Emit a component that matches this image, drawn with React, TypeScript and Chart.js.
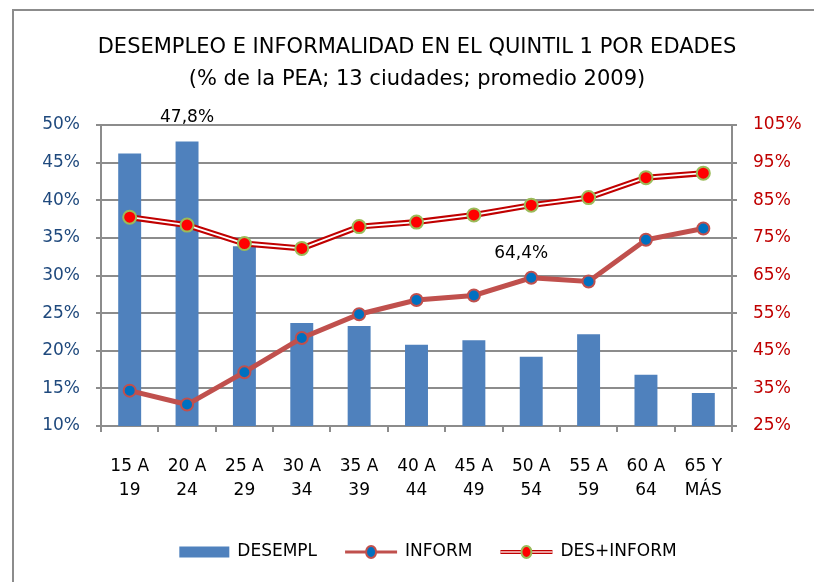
import React, { useEffect, useRef } from "react";
import { Chart, registerables } from "chart.js";

Chart.register(...registerables);

// ---------- data ----------
const categories: string[][] = [
  ["15 A", "19"], ["20 A", "24"], ["25 A", "29"], ["30 A", "34"], ["35 A", "39"],
  ["40 A", "44"], ["45 A", "49"], ["50 A", "54"], ["55 A", "59"], ["60 A", "64"], ["65 Y", "MÁS"],
];
const desempl = [46.2, 47.8, 33.9, 23.7, 23.3, 20.8, 21.4, 19.2, 22.2, 16.8, 14.4];
const inform = [34.4, 30.7, 39.3, 48.4, 54.7, 58.5, 59.7, 64.4, 63.4, 74.5, 77.5];
const desInform = [80.5, 78.4, 73.5, 72.2, 78.0, 79.2, 81.1, 83.7, 85.7, 91.0, 92.2];

const leftAxis = { min: 10, max: 50, step: 5 };
const rightAxis = { min: 25, max: 105, step: 10 };

const titleLines = [
  "DESEMPLEO E INFORMALIDAD EN EL QUINTIL 1 POR EDADES",
  "(% de la PEA; 13 ciudades; promedio 2009)",
];
const legendLabels = ["DESEMPL", "INFORM", "DES+INFORM"];
// which values carry a data label: [dataset index, point index]
const labeledPoints: [number, number][] = [[0, 1], [1, 7]];

// ---------- styles ----------
const FONT = '"DejaVu Sans", Verdana, sans-serif';
const GRID = "#8c8c8c";
const BAR_BLUE = "#4F81BD";
const INFORM_LINE = "#C0504D";
const INFORM_POINT = "#0070C0";
const DI_LINE = "#C00000";
const DI_POINT = "#FF0000";
const DI_POINT_BORDER = "#9BBB59";

const fmt = (v: number) => v.toFixed(1).replace(".", ",") + "%";

const titlePlugin = {
  id: "customTitle",
  afterDraw(chart: any) {
    const ctx = chart.ctx;
    ctx.save();
    ctx.font = `21px ${FONT}`;
    ctx.fillStyle = "#000";
    ctx.textAlign = "center";
    ctx.textBaseline = "middle";
    titleLines.forEach((t, i) => ctx.fillText(t, 417, 48 + i * 32));
    ctx.restore();
  },
};

const dataLabelPlugin = {
  id: "dataLabels",
  afterDatasetsDraw(chart: any) {
    const ctx = chart.ctx;
    ctx.save();
    ctx.font = `17px ${FONT}`;
    ctx.fillStyle = "#000";
    ctx.textAlign = "center";
    ctx.textBaseline = "middle";
    labeledPoints.forEach(([ds, i]) => {
      const el = chart.getDatasetMeta(ds).data[i];
      const v = chart.data.datasets[ds].data[i];
      const dx = ds === 0 ? 0 : -10;
      ctx.fillText(fmt(v), el.x + dx, el.y - 24);
    });
    ctx.restore();
  },
};

const legendPlugin = {
  id: "customLegend",
  afterDraw(chart: any) {
    const ctx = chart.ctx;
    ctx.save();
    ctx.font = `17px ${FONT}`;
    const symW = [50, 52, 52];
    const gap = 8;
    const itemGap = 28;
    const widths = legendLabels.map((t, i) => symW[i] + gap + ctx.measureText(t).width);
    const total = widths.reduce((a, b) => a + b, 0) + itemGap * (widths.length - 1);
    let x = 428 - total / 2;
    const y = 552;
    legendLabels.forEach((t, i) => {
      if (i === 0) {
        ctx.fillStyle = BAR_BLUE;
        ctx.fillRect(x, y - 5.5, symW[0], 11);
      } else if (i === 1) {
        ctx.strokeStyle = INFORM_LINE;
        ctx.lineWidth = 3;
        ctx.beginPath();
        ctx.moveTo(x, y);
        ctx.lineTo(x + symW[1], y);
        ctx.stroke();
        ctx.beginPath();
        ctx.ellipse(x + symW[1] / 2, y, 5, 6, 0, 0, Math.PI * 2);
        ctx.fillStyle = INFORM_POINT;
        ctx.fill();
        ctx.lineWidth = 2;
        ctx.strokeStyle = INFORM_LINE;
        ctx.stroke();
      } else {
        ctx.strokeStyle = DI_LINE;
        ctx.lineWidth = 4;
        ctx.beginPath();
        ctx.moveTo(x, y);
        ctx.lineTo(x + symW[2], y);
        ctx.stroke();
        ctx.strokeStyle = "#fbd0d0";
        ctx.lineWidth = 1.5;
        ctx.beginPath();
        ctx.moveTo(x, y);
        ctx.lineTo(x + symW[2], y);
        ctx.stroke();
        ctx.beginPath();
        ctx.ellipse(x + symW[2] / 2, y, 5, 6, 0, 0, Math.PI * 2);
        ctx.fillStyle = DI_POINT;
        ctx.fill();
        ctx.lineWidth = 2;
        ctx.strokeStyle = DI_POINT_BORDER;
        ctx.stroke();
      }
      ctx.fillStyle = "#000";
      ctx.textAlign = "left";
      ctx.textBaseline = "middle";
      ctx.fillText(t, x + symW[i] + gap, y);
      x += widths[i] + itemGap;
    });
    ctx.restore();
  },
};

export default function App() {
  const ref = useRef<HTMLCanvasElement | null>(null);

  useEffect(() => {
    if (!ref.current) return;
    const chart = new Chart(ref.current, {
      type: "bar",
      data: {
        labels: categories,
        datasets: [
          {
            type: "bar",
            label: legendLabels[0],
            data: desempl,
            yAxisID: "y",
            backgroundColor: BAR_BLUE,
            barPercentage: 0.4,
            categoryPercentage: 1,
            order: 10,
          },
          {
            type: "line",
            label: legendLabels[1],
            data: inform,
            yAxisID: "y1",
            borderColor: INFORM_LINE,
            borderWidth: 5,
            pointRadius: 6,
            pointBorderWidth: 2,
            pointBackgroundColor: INFORM_POINT,
            pointBorderColor: INFORM_LINE,
            tension: 0,
            order: 1,
          },
          {
            type: "line",
            label: legendLabels[2],
            data: desInform,
            yAxisID: "y1",
            borderColor: DI_LINE,
            borderWidth: 6,
            pointRadius: 0,
            tension: 0,
            order: 4,
          },
          {
            type: "line",
            label: legendLabels[2] + " inner",
            data: desInform,
            yAxisID: "y1",
            borderColor: "#ffffff",
            borderWidth: 1.8,
            pointRadius: 0,
            tension: 0,
            order: 3,
          },
          {
            type: "line",
            label: legendLabels[2] + " points",
            data: desInform,
            yAxisID: "y1",
            showLine: false,
            pointRadius: 6.5,
            pointBorderWidth: 2,
            pointBackgroundColor: DI_POINT,
            pointBorderColor: DI_POINT_BORDER,
            order: 2,
          },
        ],
      },
      options: {
        animation: false,
        responsive: false,
        events: [],
        layout: { padding: { left: 0, right: 0, top: 125, bottom: 76 } },
        plugins: {
          legend: { display: false },
          tooltip: { enabled: false },
          title: { display: false },
        },
        scales: {
          x: {
            offset: true,
            grid: {
              offset: true,
              drawOnChartArea: false,
              drawTicks: true,
              tickLength: 6,
              color: GRID,
              lineWidth: 2,
            },
            border: { display: true, color: GRID, width: 2 },
            ticks: {
              color: "#000",
              font: { family: FONT, size: 17, lineHeight: 1.45 },
              padding: 22,
              maxRotation: 0,
              autoSkip: false,
            },
            afterFit: (s: any) => { s.height = 80; },
          },
          y: {
            position: "left",
            min: leftAxis.min,
            max: leftAxis.max,
            grid: { color: GRID, lineWidth: 2, tickLength: 5 },
            border: { display: true, color: GRID, width: 2 },
            ticks: {
              stepSize: leftAxis.step,
              color: "#1F497D",
              font: { family: FONT, size: 17 },
              padding: 16,
              callback: (v: any) => v + "%",
            },
            afterFit: (s: any) => { s.width = 101; },
          },
          y1: {
            position: "right",
            min: rightAxis.min,
            max: rightAxis.max,
            grid: { drawOnChartArea: false, color: GRID, lineWidth: 2, tickLength: 5 },
            border: { display: true, color: GRID, width: 2 },
            ticks: {
              stepSize: rightAxis.step,
              color: "#C00000",
              font: { family: FONT, size: 17 },
              padding: 16,
              callback: (v: any) => v + "%",
            },
            afterFit: (s: any) => { s.width = 82; },
          },
        },
      },
      plugins: [titlePlugin, dataLabelPlugin, legendPlugin],
    } as any);
    return () => chart.destroy();
  }, []);

  return (
    <div style={{ position: "fixed", left: 0, top: 0, width: 814, height: 582, background: "#fff", overflow: "hidden" }}>
      <div
        style={{
          position: "absolute",
          left: 12,
          top: 9,
          width: 820,
          height: 600,
          borderLeft: `2px solid ${GRID}`,
          borderTop: `2px solid ${GRID}`,
        }}
      />
      <canvas ref={ref} width={814} height={582} style={{ position: "absolute", left: 0, top: 0, width: 814, height: 582 }} />
    </div>
  );
}
